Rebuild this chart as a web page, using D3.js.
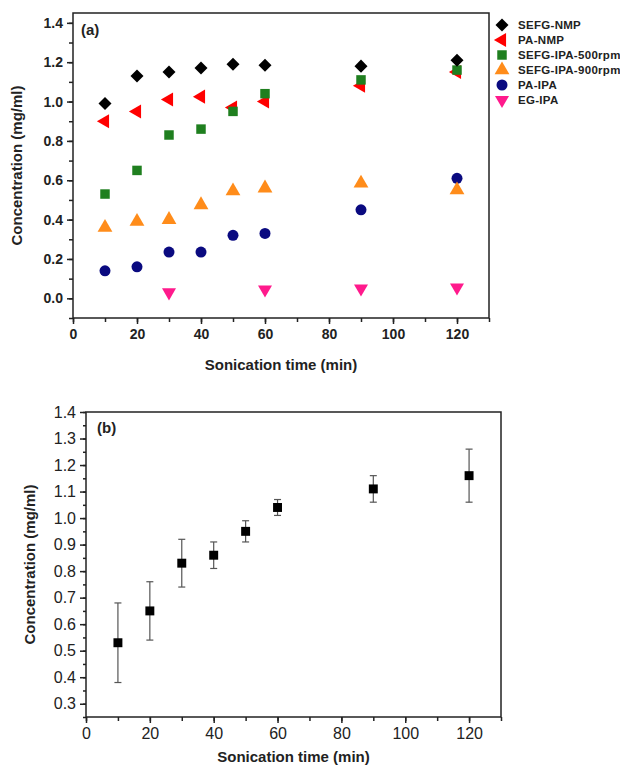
<!doctype html>
<html lang="en">
<head>
<meta charset="utf-8">
<title>Concentration vs sonication time</title>
<style>
  body { margin: 0; background: #fff; }
  svg text { font-family: Arial, "Liberation Sans", sans-serif; }
  .axA text { font-weight: bold; font-size: 14px; fill: #222; }
  .axB text { font-size: 16px; fill: #222; }
  .axis path, .axis line { stroke: #222; stroke-width: 1.5px; }
</style>
</head>
<body>
<svg id="chart" width="620" height="765"></svg>
<script src="https://cdn.jsdelivr.net/npm/d3@7/dist/d3.min.js"></script>
<script>
// sonication times (min)
var timesA = [10, 20, 30, 40, 50, 60, 90, 120];
var timesEG = [30, 60, 90, 120];

// panel (a) series
var sefgNmp = [0.99, 1.13, 1.15, 1.17, 1.19, 1.185, 1.18, 1.21];
var paNmp = [0.90, 0.95, 1.01, 1.025, 0.97, 1.00, 1.08, 1.15];
var sefgIpa500 = [0.53, 0.65, 0.83, 0.86, 0.95, 1.04, 1.11, 1.16];
var sefgIpa900 = [0.36, 0.39, 0.40, 0.475, 0.545, 0.56, 0.585, 0.55];
var paIpa = [0.14, 0.16, 0.235, 0.235, 0.32, 0.33, 0.45, 0.61];
var egIpa = [0.03, 0.045, 0.05, 0.055];

var seriesNames = ["SEFG-NMP", "PA-NMP", "SEFG-IPA-500rpm", "SEFG-IPA-900rpm", "PA-IPA", "EG-IPA"];

// panel (b): SEFG-IPA-500rpm with error
var timesB = [10, 20, 30, 40, 50, 60, 90, 120];
var meanB = [0.53, 0.65, 0.83, 0.86, 0.95, 1.04, 1.11, 1.16];
var errB = [0.15, 0.11, 0.09, 0.05, 0.04, 0.03, 0.05, 0.10];

var xTicks = [0, 20, 40, 60, 80, 100, 120];
var yTicksA = [0.0, 0.2, 0.4, 0.6, 0.8, 1.0, 1.2, 1.4];
var yTicksB = [0.3, 0.4, 0.5, 0.6, 0.7, 0.8, 0.9, 1.0, 1.1, 1.2, 1.3, 1.4];

var svg = d3.select("#chart");

// ---------- panel (a) ----------
var ax = {left: 73, right: 489, top: 13, bottom: 318};
var xA = d3.scaleLinear().domain([0, 130]).range([ax.left, ax.right]);
var yA = d3.scaleLinear().domain([-0.1, 1.45]).range([ax.bottom, ax.top]);

var gA = svg.append("g");
gA.append("rect")
  .attr("x", ax.left).attr("y", ax.top)
  .attr("width", ax.right - ax.left).attr("height", ax.bottom - ax.top)
  .attr("fill", "none").attr("stroke", "#222").attr("stroke-width", 1.5);

// minor ticks
gA.append("g").attr("class", "axis")
  .attr("transform", "translate(0," + ax.bottom + ")")
  .call(d3.axisBottom(xA).tickValues(d3.range(0, 131, 10)).tickSize(4).tickFormat(""))
  .select(".domain").remove();
gA.append("g").attr("class", "axis")
  .attr("transform", "translate(" + ax.left + ",0)")
  .call(d3.axisLeft(yA).tickValues(d3.range(-0.1, 1.45, 0.1)).tickSize(4).tickFormat(""))
  .select(".domain").remove();
// major ticks
gA.append("g").attr("class", "axis axA")
  .attr("transform", "translate(0," + ax.bottom + ")")
  .call(d3.axisBottom(xA).tickValues(xTicks).tickSize(6).tickPadding(5).tickFormat(d3.format("d")))
  .select(".domain").remove();
gA.append("g").attr("class", "axis axA")
  .attr("transform", "translate(" + ax.left + ",0)")
  .call(d3.axisLeft(yA).tickValues(yTicksA).tickSize(6).tickPadding(4).tickFormat(d3.format(".1f")))
  .select(".domain").remove();

gA.append("text").attr("x", 81).attr("y", 35)
  .attr("font-size", 15).attr("font-weight", "bold").attr("fill", "#222").text("(a)");

gA.append("text")
  .attr("transform", "translate(22," + ((ax.top + ax.bottom) / 2) + ") rotate(-90)")
  .attr("text-anchor", "middle").attr("font-size", 15).attr("font-weight", "bold").attr("fill", "#222")
  .text("Concentration (mg/ml)");
gA.append("text")
  .attr("x", (ax.left + ax.right) / 2).attr("y", 370)
  .attr("text-anchor", "middle").attr("font-size", 15).attr("font-weight", "bold").attr("fill", "#222")
  .text("Sonication time (min)");

var styles = [
  {color: "#000000", type: d3.symbolSquare, size: 85, rot: 45},
  {color: "#ff0000", type: d3.symbolTriangle, size: 85, rot: -90},
  {color: "#1f7f1f", type: d3.symbolSquare, size: 90, rot: 0},
  {color: "#ff8c1a", type: d3.symbolTriangle, size: 95, rot: 0},
  {color: "#0a0a80", type: d3.symbolCircle, size: 95, rot: 0},
  {color: "#ff1a8c", type: d3.symbolTriangle, size: 85, rot: 180}
];

var allSeries = [
  {t: timesA, v: sefgNmp},
  {t: timesA, v: paNmp},
  {t: timesA, v: sefgIpa500},
  {t: timesA, v: sefgIpa900},
  {t: timesA, v: paIpa},
  {t: timesEG, v: egIpa}
];

// draw back-to-front so black diamonds stay on top like the original
[5, 4, 3, 1, 2, 0].forEach(function(k) {
  var s = styles[k];
  var sym = d3.symbol().type(s.type).size(s.size);
  gA.append("g").selectAll("path")
    .data(allSeries[k].v)
    .join("path")
    .attr("d", sym)
    .attr("fill", s.color)
    .attr("transform", function(d, i) {
      return "translate(" + xA(allSeries[k].t[i]) + "," + yA(d) + ") rotate(" + s.rot + ")";
    });
});

// legend
var leg = gA.append("g");
seriesNames.forEach(function(name, k) {
  var s = styles[k];
  var yy = 25 + k * 15;
  leg.append("path")
    .attr("d", d3.symbol().type(s.type).size(s.size)())
    .attr("fill", s.color)
    .attr("transform", "translate(502," + yy + ") rotate(" + s.rot + ")");
  leg.append("text").attr("x", 518).attr("y", yy + 4)
    .attr("font-size", 11.5).attr("font-weight", "bold").attr("fill", "#222")
    .attr("letter-spacing", 0.3)
    .text(name);
});

// ---------- panel (b) ----------
var bx = {left: 86, right: 501, top: 412, bottom: 717};
var xB = d3.scaleLinear().domain([0, 130]).range([bx.left, bx.right]);
var yB = d3.scaleLinear().domain([0.25, 1.4]).range([bx.bottom, bx.top]);

var gB = svg.append("g");
gB.append("rect")
  .attr("x", bx.left).attr("y", bx.top)
  .attr("width", bx.right - bx.left).attr("height", bx.bottom - bx.top)
  .attr("fill", "none").attr("stroke", "#222").attr("stroke-width", 1.5);

gB.append("g").attr("class", "axis")
  .attr("transform", "translate(0," + bx.bottom + ")")
  .call(d3.axisBottom(xB).tickValues(d3.range(0, 131, 10)).tickSize(4).tickFormat(""))
  .select(".domain").remove();
gB.append("g").attr("class", "axis")
  .attr("transform", "translate(" + bx.left + ",0)")
  .call(d3.axisLeft(yB).tickValues(d3.range(0.25, 1.41, 0.05)).tickSize(3).tickFormat(""))
  .select(".domain").remove();
gB.append("g").attr("class", "axis axB")
  .attr("transform", "translate(0," + bx.bottom + ")")
  .call(d3.axisBottom(xB).tickValues(xTicks).tickSize(6).tickPadding(5).tickFormat(d3.format("d")))
  .select(".domain").remove();
gB.append("g").attr("class", "axis axB")
  .attr("transform", "translate(" + bx.left + ",0)")
  .call(d3.axisLeft(yB).tickValues(yTicksB).tickSize(6).tickPadding(4).tickFormat(d3.format(".1f")))
  .select(".domain").remove();

gB.append("text").attr("x", 97).attr("y", 433)
  .attr("font-size", 15).attr("font-weight", "bold").attr("fill", "#222").text("(b)");

gB.append("text")
  .attr("transform", "translate(35," + ((bx.top + bx.bottom) / 2) + ") rotate(-90)")
  .attr("text-anchor", "middle").attr("font-size", 15).attr("font-weight", "bold").attr("fill", "#222")
  .text("Concentration (mg/ml)");
gB.append("text")
  .attr("x", (bx.left + bx.right) / 2).attr("y", 762)
  .attr("text-anchor", "middle").attr("font-size", 15).attr("font-weight", "bold").attr("fill", "#222")
  .text("Sonication time (min)");

// error bars
var eb = gB.append("g").attr("stroke", "#555").attr("stroke-width", 1.2);
timesB.forEach(function(t, i) {
  var lo = yB(meanB[i] - errB[i]), hi = yB(meanB[i] + errB[i]), cx = xB(t);
  eb.append("line").attr("x1", cx).attr("x2", cx).attr("y1", lo).attr("y2", hi);
  eb.append("line").attr("x1", cx - 3.5).attr("x2", cx + 3.5).attr("y1", lo).attr("y2", lo);
  eb.append("line").attr("x1", cx - 3.5).attr("x2", cx + 3.5).attr("y1", hi).attr("y2", hi);
});

gB.append("g").selectAll("path")
  .data(meanB)
  .join("path")
  .attr("d", d3.symbol().type(d3.symbolSquare).size(80))
  .attr("fill", "#000")
  .attr("transform", function(d, i) { return "translate(" + xB(timesB[i]) + "," + yB(d) + ")"; });
</script>
</body>
</html>
